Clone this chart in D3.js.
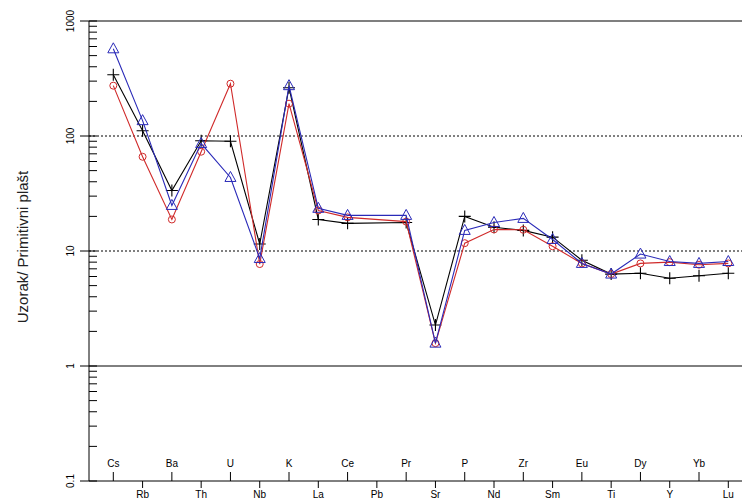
<!DOCTYPE html>
<html><head><meta charset="utf-8">
<script src="https://cdn.jsdelivr.net/npm/d3@7"></script>
<style>body{margin:0;background:#fff}svg{display:block}</style>
</head><body>
<svg id="c" width="742" height="499"></svg>
<script>
const elements = ["Cs","Rb","Ba","Th","U","Nb","K","La","Ce","Pb","Pr","Sr","P","Nd","Zr","Sm","Eu","Ti","Dy","Y","Yb","Lu"];
// null = no value (Pb)
const seriesBlack = [341,111,33.6,91,90,11.5,263,18.8,17.4,null,17.7,2.27,20,16.1,15.1,13.2,8.3,6.3,6.4,5.8,6.1,6.4];
const seriesRed   = [274,66,18.8,73,285,7.7,191,22.5,19.6,null,18,1.58,11.7,15.4,15.3,11,7.8,6.3,7.8,8.0,7.6,7.8];
const seriesBlue  = [573,136,24.9,86,43.6,8.6,274,23.5,20.4,null,20.4,1.58,15.1,17.7,19.2,12.6,7.8,6.3,9.4,8.1,7.8,8.1];
const yTicks = [0.1,1,10,100,1000];
const yTitle = "Uzorak/ Primitivni plašt";

const svg = d3.select("#c");
const x = d3.scalePoint().domain(elements).range([113.3, 728.3]);
const y = d3.scaleLog().domain([0.1, 1000]).range([481, 21]);
const left = 89, right = 742;
const font = "Liberation Sans, Arial, sans-serif";

// horizontal reference lines
svg.append("line").attr("x1",left).attr("x2",right).attr("y1",y(1000)).attr("y2",y(1000)).attr("stroke","#555").attr("stroke-width",1.5);
[10,100].forEach(v=>svg.append("line").attr("x1",left).attr("x2",right).attr("y1",y(v)).attr("y2",y(v)).attr("stroke","#000").attr("stroke-dasharray","2,2"));
svg.append("line").attr("x1",left).attr("x2",right).attr("y1",y(1)).attr("y2",y(1)).attr("stroke","#000");

// y axis
const yAxis = svg.append("g");
yAxis.append("line").attr("x1",left).attr("x2",left).attr("y1",y(1000)).attr("y2",y(0.1)).attr("stroke","#000");
for (let d=0.1; d<1000; d*=10) {
  for (let k=2;k<=9;k++) {
    const v = d*k;
    yAxis.append("line").attr("x1",left).attr("x2",left+8).attr("y1",y(v)).attr("y2",y(v)).attr("stroke","#000");
  }
}
yTicks.forEach(v=>{
  yAxis.append("line").attr("x1",left-9).attr("x2",left+8).attr("y1",y(v)).attr("y2",y(v)).attr("stroke","#000");
  yAxis.append("text").attr("transform",`translate(74,${y(v)}) rotate(-90)`)
    .attr("text-anchor","middle").attr("font-family",font).attr("font-size",10).attr("fill","#000").text(v);
});
svg.append("text").attr("transform",`translate(28,247) rotate(-90)`)
  .attr("text-anchor","middle").attr("font-family",font).attr("font-size",15).attr("fill","#222").text(yTitle);

// x axis
const base = y(0.1);
svg.append("line").attr("x1",left).attr("x2",right).attr("y1",base).attr("y2",base).attr("stroke","#000");
elements.forEach((e,i)=>{
  const xi = x(e);
  if (i%2===0) {
    svg.append("line").attr("x1",xi).attr("x2",xi).attr("y1",base).attr("y2",base-9).attr("stroke","#000");
    svg.append("text").attr("x",xi).attr("y",base-14).attr("text-anchor","middle").attr("font-family",font).attr("font-size",10).text(e);
  } else {
    svg.append("line").attr("x1",xi).attr("x2",xi).attr("y1",base).attr("y2",base+7).attr("stroke","#000");
    svg.append("text").attr("x",xi).attr("y",base+17).attr("text-anchor","middle").attr("font-family",font).attr("font-size",10).text(e);
  }
});

function drawSeries(vals, color, marker){
  const pts = elements.map((e,i)=>({e, v: vals[i]})).filter(d=>d.v!=null);
  const line = d3.line().x(d=>x(d.e)).y(d=>y(d.v));
  svg.append("path").attr("d", line(pts)).attr("fill","none").attr("stroke",color).attr("stroke-width",1.1);
  const g = svg.append("g");
  pts.forEach(d=>{
    const px = x(d.e), py = y(d.v);
    if (marker==="plus") {
      g.append("path").attr("d",`M${px-6},${py}H${px+6}M${px},${py-6}V${py+6}`).attr("stroke",color).attr("stroke-width",1.1);
    } else if (marker==="circle") {
      g.append("circle").attr("cx",px).attr("cy",py).attr("r",3.5).attr("fill","none").attr("stroke",color).attr("stroke-width",1);
    } else {
      g.append("path").attr("d",`M${px},${py-6}L${px+5.5},${py+4}L${px-5.5},${py+4}Z`).attr("fill","none").attr("stroke",color).attr("stroke-width",1);
    }
  });
}
drawSeries(seriesBlack, "#000", "plus");
drawSeries(seriesRed, "#d02a2a", "circle");
drawSeries(seriesBlue, "#2a2ab8", "tri");
</script>
</body></html>
